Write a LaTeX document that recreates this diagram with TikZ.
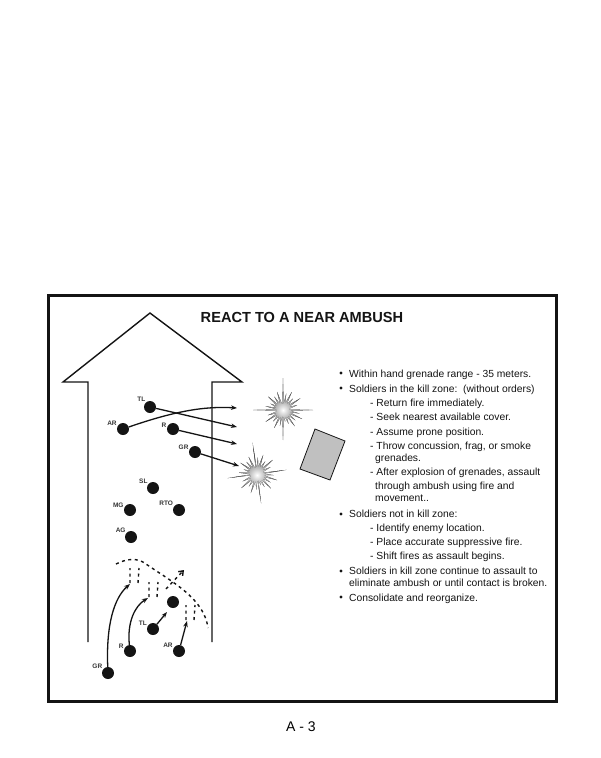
\documentclass[tikz,border=0pt]{standalone}
\usepackage{fontspec}
\setmainfont{Liberation Sans}
\usetikzlibrary{arrows.meta,positioning,calc}
\definecolor{InkBlack}{RGB}{20,20,20}
\definecolor{CoverGray}{RGB}{192,192,192}
\tikzset{
  soldier/.style={circle,fill=InkBlack,minimum size=12pt,inner sep=0pt,
    label distance=0.5pt},
  tag/.style={font=\fontsize{6.5}{7}\selectfont\bfseries,inner sep=0.5pt,
    text=InkBlack!85},
  lineitem/.style={anchor=base west,inner sep=0pt,text=InkBlack,
    font=\fontsize{10.3}{12}\selectfont},
  bulletdot/.style={circle,fill=InkBlack,inner sep=0pt,minimum size=3.2pt},
  arrow/.style={-{Stealth[length=6pt,width=4.5pt]},line width=1.3pt,
    color=InkBlack},
  dashline/.style={line width=1.4pt,color=InkBlack,dash pattern=on 3pt off 3.5pt},
  dasharrow/.style={dashline,-{Straight Barb[length=4pt,width=6pt]}},
  pics/blast/.style={code={
    \path[clip]
      (0:30) \foreach \a/\r in {5/6.5,12/17,18/7,25/21,32/7,40/16,47/7,
        54/20,61/7,68/15,75/7,80/12,85/5.5,90/30,95/5.5,101/16,108/7,
        116/20,123/7,131/15,138/7,146/21,153/7,161/16,168/7,175/5.5,
        180/30,185/5.5,192/18,199/7,207/14,214/7,222/20,229/7,237/16,
        244/7,252/19,259/7,265/5.5,270/32,275/5.5,281/17,288/7,296/20,
        303/7,311/15,318/7,326/21,333/7,341/15,348/7,355/5.5} { -- (\a:\r) } -- cycle;
    \fill[InkBlack] (-36,-36) rectangle (36,36);
    \shade[inner color=white,outer color=InkBlack] (0,0) circle (26);
  }}
}
\begin{document}
\begin{tikzpicture}[x=1pt,y=-1pt]
  \useasboundingbox (0,0) rectangle (600,758);
  \fill[white] (0,0) rectangle (600,758);
  % frame and title
  \draw[line width=3pt,InkBlack] (48.5,295.5) rectangle (556.5,701.5);
  \node[font=\fontsize{14.6}{16}\selectfont\bfseries,text=InkBlack]
    (title) at (302,317) {REACT TO A NEAR AMBUSH};
  \node[font=\fontsize{14}{16}\selectfont] (page) at (301,727) {A - 3};
  % direction of travel
  \draw[line width=1.4pt,InkBlack,line join=miter]
    (88,642) -- (88,382) -- (63,382) -- (150,313) -- (242,382)
    -- (212,382) -- (212,642);
  % enemy position
  \filldraw[fill=CoverGray,draw=InkBlack,line width=0.8pt]
    (315,429) -- (345,441) -- (330,480) -- (300,469) -- cycle;
  \pic at (283,410) {blast};
  \pic[rotate=8] at (257,474) {blast};
  % soldiers
  \foreach \n/\x/\y/\a/\t in {tl/150/407/130/TL,ar/123/429/155/AR,
      r/173/429/168/R,gr/195/452/160/GR,sl/153/488/140/SL,
      mg/130/510/160/MG,rto/179/510/148/RTO,ag/131/537/140/AG,
      tlb/153/629/150/TL,rb/130/651/160/R,arb/179/651/155/AR,
      grb/108/673/145/GR}
    \node[soldier,label={[tag]\a:\t}] (\n) at (\x,\y) {};
  \node[soldier] (lead) at (173,602) {};
  % fire into the kill zone
  \coordinate (aimA) at (237,408);
  \coordinate (aimB) at (237,427);
  \coordinate (aimC) at (237,444);
  \coordinate (aimD) at (239,466);
  \draw[arrow] (ar) .. controls (175,411) and (205,406) .. (aimA);
  \foreach \s/\e in {tl/aimB,r/aimC,gr/aimD}
    \draw[arrow] (\s) -- (\e);
  % assault through the ambush
  \coordinate (moveA) at (130,584);
  \coordinate (moveB) at (148,598);
  \coordinate (moveC) at (167,612);
  \coordinate (moveD) at (187,621);
  \draw[arrow] (grb) .. controls (106,625) and (114,598) .. (moveA);
  \draw[arrow] (rb) .. controls (127,622) and (135,606) .. (moveB);
  \foreach \s/\e in {tlb/moveC,arb/moveD}
    \draw[arrow] (\s) -- (\e);
  \draw[dashline] (116,564) .. controls (126,559) and (137,557) .. (146,564)
    .. controls (172,582) and (204,598) .. (208,628);
  \draw[dasharrow] (166,589) -- (184,570);
  \foreach \x/\y in {130/583,149/597,186/620}
    \draw[dashline] (\x,\y) -- ++(0,-15) (\x+8,\y) -- ++(1,-15);
  % instructions
  \foreach \y in {373,388,514,571,597}
    \node[bulletdot] at (341,\y) {};
  \node[lineitem] (i1) at (349,377) {Within hand grenade range - 35 meters.};
  \node[lineitem] (i2) at (349,392) {Soldiers in the kill zone:\ \ (without orders)};
  \foreach \y/\t in {406/{- Return fire immediately.},
      420/{- Seek nearest available cover.},
      435/{- Assume prone position.},
      449/{- Throw concussion, frag, or smoke},
      475/{- After explosion of grenades, assault},
      531/{- Identify enemy location.},
      545/{- Place accurate suppressive fire.},
      559/{- Shift fires as assault begins.}}
    \node[lineitem] at (370,\y) {\t};
  \foreach \y/\t in {461/{grenades.},489/{through ambush using fire and},
      501/{movement..}}
    \node[lineitem] at (375,\y) {\t};
  \node[lineitem] (i3) at (349,517) {Soldiers not in kill zone:};
  \node[lineitem] (i4) at (349,574) {Soldiers in kill zone continue to assault to};
  \node[lineitem] (i4b) at (349,586) {eliminate ambush or until contact is broken.};
  \node[lineitem] (i5) at (349,601) {Consolidate and reorganize.};
\end{tikzpicture}
\end{document}
